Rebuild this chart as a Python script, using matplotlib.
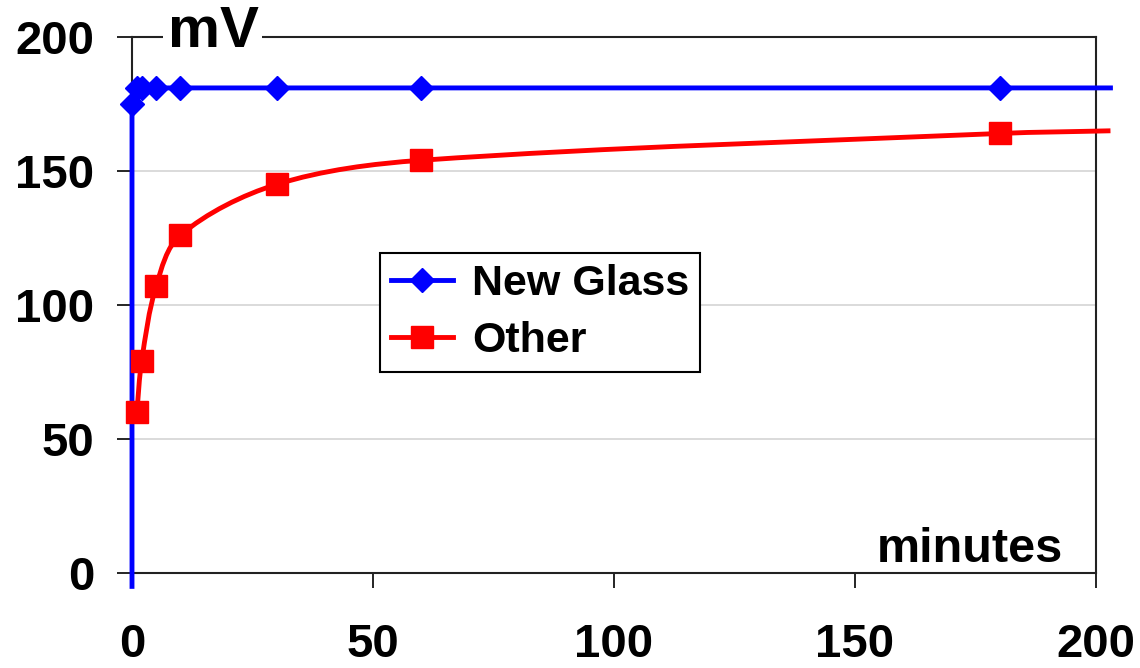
import numpy as np
import matplotlib.pyplot as plt
from matplotlib.path import Path
from matplotlib.patches import PathPatch

plt.rcParams['font.family'] = ['Liberation Sans', 'DejaVu Sans']
plt.rcParams['font.weight'] = 'bold'

# New Glass readings (mV vs minutes); first point is the start of the trace
glass_x = [0, 0, 1, 2, 5, 10, 30, 60, 180, 203]
glass_y = [-5, 175, 181, 181, 181, 181, 181, 181, 181, 181]

# Other electrode readings
other_x = [1, 2, 5, 10, 30, 60, 180, 203]
other_y = [60, 79, 107, 126, 145, 154, 164, 165]

x_ticks = [0, 50, 100, 150, 200]
y_ticks = [0, 50, 100, 150, 200]

# pixels per data unit, used so the smoothing behaves like on screen
SX, SY = 964 / 200, 536 / 200


def smooth_path(xs, ys):
    # cubic bezier through the points, tangents scaled by chord length
    p = np.column_stack([np.array(xs) * SX, np.array(ys) * SY]).astype(float)
    n = len(p)
    d = np.hypot(*(p[1:] - p[:-1]).T)
    tang = np.zeros_like(p)
    for i in range(n):
        if i == 0:
            tang[i] = (p[1] - p[0]) / d[0]
        elif i == n - 1:
            tang[i] = (p[-1] - p[-2]) / d[-1]
        else:
            tang[i] = (p[i + 1] - p[i - 1]) / (d[i - 1] + d[i])
    verts = [p[0]]
    codes = [Path.MOVETO]
    for i in range(n - 1):
        c1 = p[i] + tang[i] * d[i] / 3
        c2 = p[i + 1] - tang[i + 1] * d[i] / 3
        verts += [c1, c2, p[i + 1]]
        codes += [Path.CURVE4] * 3
    verts = np.array(verts) / [SX, SY]
    return Path(verts, codes)


fig = plt.figure(figsize=(11.4, 6.68), dpi=100)
ax = fig.add_axes([132 / 1140, 1 - 573 / 668, 964 / 1140, 536 / 668])

ax.set_xlim(0, 200)
ax.set_ylim(0, 200)
ax.set_xticks(x_ticks)
ax.set_yticks(y_ticks)
ax.tick_params(axis='both', labelsize=34, width=1.2)
ax.tick_params(axis='x', length=11, pad=25)
ax.tick_params(axis='y', length=11, pad=16)
for lab in ax.get_xticklabels() + ax.get_yticklabels():
    lab.set_fontweight('bold')

for y in y_ticks[1:-1]:
    ax.axhline(y, color='#d4d4d4', lw=1.2, zorder=0)
for s in ax.spines.values():
    s.set_linewidth(1.5)
    s.set_color('#222222')

# blue series
ax.plot(glass_x, glass_y, color='#0000ff', lw=3.5, marker='D', ms=12,
        markevery=list(range(1, len(glass_x) - 1)), clip_on=False, zorder=4,
        label='New Glass')

# red series: smoothed line + square markers
patch = PathPatch(smooth_path(other_x, other_y), fill=False, edgecolor='#ff0000',
                  lw=3.5, clip_on=False, zorder=3)
ax.add_patch(patch)
ax.plot(other_x[:-1], other_y[:-1], ls='none', color='#ff0000', marker='s', ms=16,
        clip_on=False, zorder=5)
ax.plot([], [], color='#ff0000', lw=3.5, marker='s', ms=16, label='Other')

leg = ax.legend(loc='upper left', bbox_to_anchor=(0.257, 0.597), borderaxespad=0,
                fontsize=31, frameon=True, fancybox=False, edgecolor='black',
                handlelength=1.45, labelspacing=0.4, borderpad=0.25,
                handletextpad=0.45, framealpha=1)
leg.get_frame().set_linewidth(1.5)
for t in leg.get_texts():
    t.set_fontweight('bold')

ax.text(0.084, 0.981, 'mV', transform=ax.transAxes, fontsize=42, fontweight='bold',
        ha='center', va='baseline', zorder=6, clip_on=False,
        bbox=dict(facecolor='white', edgecolor='none', pad=3))
ax.text(0.869, 0.0205, 'minutes', transform=ax.transAxes, fontsize=35,
        fontweight='bold', ha='center', va='baseline', zorder=6)

fig.savefig('out.png', dpi=100)
